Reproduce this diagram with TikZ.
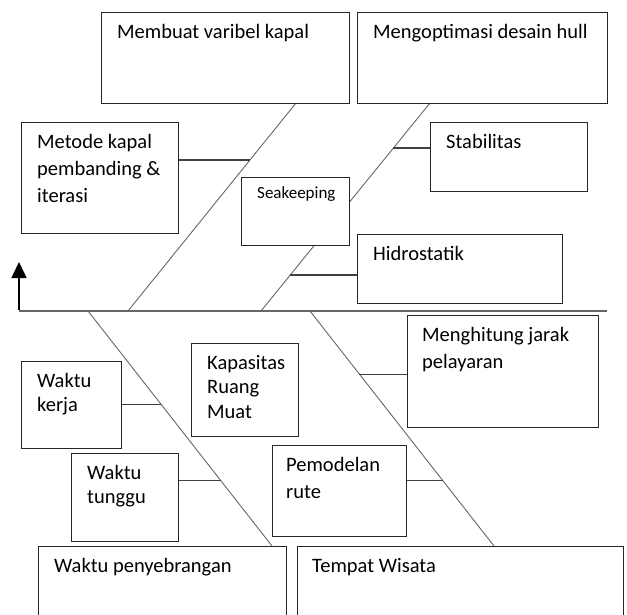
\documentclass[tikz,border=0pt]{standalone}
\usepackage{fontspec}
\setmainfont{Carlito}
\usetikzlibrary{arrows.meta,calc}
\tikzset{box/.style={draw=black!85,fill=white,line width=0.9pt,anchor=north west,inner sep=0pt},
  txt/.style={anchor=north west,align=left,inner xsep=16pt,inner ysep=12pt,
    font=\fontsize{20.5}{27}\selectfont},
  tight/.style={txt,font=\fontsize{20.5}{24.5}\selectfont},
  bone/.style={draw=black!60,line width=0.9pt},
  twig/.style={draw=black!75,line width=1.2pt},
  spine/.style={draw=black!60,line width=1.6pt},
  stem/.style={draw=black,line width=1.5pt,-{Triangle[width=15pt,length=16pt]}}}
\begin{document}
\begin{tikzpicture}[x=1pt,y=-1pt]
\useasboundingbox (0,0) rectangle (627,615);
\coordinate (tail) at (607,311);
\coordinate (corner) at (19,311);
\coordinate (head) at (19,262);
\coordinate (up1) at (128,311);
\coordinate (up1end) at (296,103);
\coordinate (up2) at (261,311);
\coordinate (up2end) at (430,103);
\coordinate (lo1) at (88,311);
\coordinate (lo1end) at (272,546);
\coordinate (lo2) at (310,311);
\coordinate (lo2end) at (494,546);
\draw[spine] (tail) -- (corner);
\draw[stem] ([yshift=0.8pt]corner) -- (head);
\draw[bone] (up1) -- (up1end);
\draw[bone] (up2) -- (up2end);
\draw[bone] (lo1) -- (lo1end);
\draw[bone] (lo2) -- (lo2end);
\node[box,minimum width=248pt,minimum height=91pt] (varkapal) at (101,12) {};
\node[txt] (varkapal-t) at (varkapal.north west) {Membuat varibel kapal};
\node[box,minimum width=250pt,minimum height=91pt] (hull) at (357,12) {};
\node[txt] (hull-t) at (hull.north west) {Mengoptimasi desain hull};
\node[box,minimum width=157pt,minimum height=111pt] (metode) at (21,122) {};
\node[txt] (metode-t) at (metode.north west) {Metode kapal\\pembanding \&\\iterasi};
\node[box,minimum width=108pt,minimum height=68pt] (seakeep) at (241,177) {};
\node[txt,inner ysep=9pt,font=\fontsize{17}{22}\selectfont] (seakeep-t) at (seakeep.north west) {Seakeeping};
\node[box,minimum width=157pt,minimum height=69pt] (stabil) at (430,122) {};
\node[txt] (stabil-t) at (stabil.north west) {Stabilitas};
\node[box,minimum width=205pt,minimum height=69pt] (hidro) at (357,234) {};
\node[txt] (hidro-t) at (hidro.north west) {Hidrostatik};
\node[box,minimum width=107pt,minimum height=93pt] (muat) at (191,343) {};
\node[tight] (muat-t) at (muat.north west) {Kapasitas\\Ruang\\Muat};
\node[box,minimum width=100pt,minimum height=87pt] (kerja) at (21,361) {};
\node[tight] (kerja-t) at (kerja.north west) {Waktu\\kerja};
\node[box,minimum width=107pt,minimum height=88pt] (tunggu) at (71,453) {};
\node[tight] (tunggu-t) at (tunggu.north west) {Waktu\\tunggu};
\node[box,minimum width=134pt,minimum height=91pt] (rute) at (272,445) {};
\node[txt,inner xsep=14pt] (rute-t) at (rute.north west) {Pemodelan\\rute};
\node[box,minimum width=191pt,minimum height=112pt] (jarak) at (407,315) {};
\node[txt,inner xsep=15pt] (jarak-t) at (jarak.north west) {Menghitung jarak\\pelayaran};
\node[box,minimum width=248pt,minimum height=90pt] (sebrang) at (38,546) {};
\node[txt] (sebrang-t) at (sebrang.north west) {Waktu penyebrangan};
\node[box,minimum width=326pt,minimum height=90pt] (wisata) at (297,546) {};
\node[txt,inner xsep=15pt] (wisata-t) at (wisata.north west) {Tempat Wisata};
\draw[twig] ($(up1)!0.726!(up1end)$) coordinate (k1) -- (k1 -| metode.east);
\draw[twig] ($(up2)!0.784!(up2end)$) coordinate (k2) -- (k2 -| stabil.west);
\draw[twig] ($(up2)!0.173!(up2end)$) coordinate (k3) -- (k3 -| hidro.west);
\draw[twig] ($(lo1)!0.397!(lo1end)$) coordinate (k4) -- (k4 -| kerja.east);
\draw[twig] ($(lo1)!0.722!(lo1end)$) coordinate (k5) -- (k5 -| tunggu.east);
\draw[twig] ($(lo2)!0.269!(lo2end)$) coordinate (k6) -- (k6 -| jarak.west);
\draw[twig] ($(lo2)!0.722!(lo2end)$) coordinate (k7) -- (k7 -| rute.east);
\end{tikzpicture}
\end{document}
